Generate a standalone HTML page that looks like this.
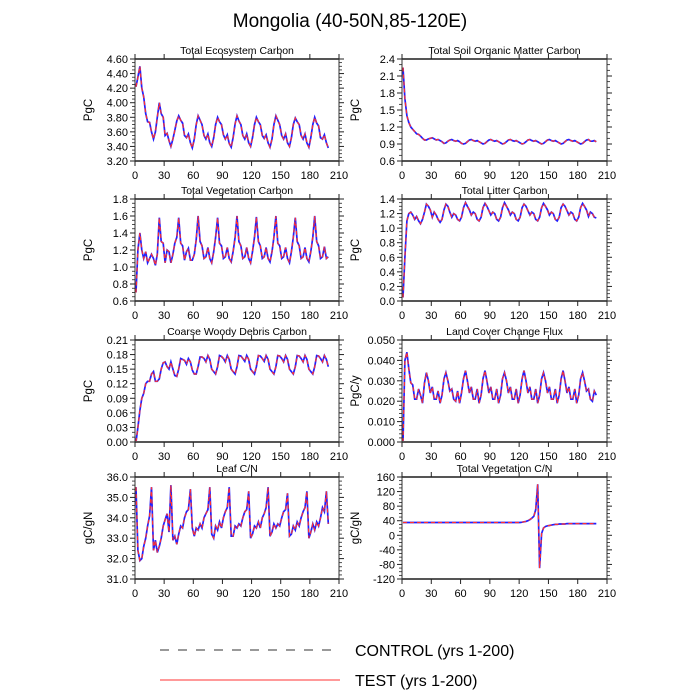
<!DOCTYPE html>
<html><head><meta charset="utf-8"><style>
html,body{margin:0;padding:0;background:#fff;}
svg{display:block;font-family:"Liberation Sans",sans-serif;}
</style></head><body>
<svg id="chart" width="700" height="700" viewBox="0 0 700 700">
<text x="350" y="27" text-anchor="middle" font-size="19">Mongolia (40-50N,85-120E)</text>
<g>
<line x1="160" y1="650" x2="340" y2="650" stroke="#333" stroke-width="1" stroke-dasharray="9,9"/>
<text x="355" y="656" font-size="16">CONTROL (yrs 1-200)</text>
<line x1="160" y1="680" x2="340" y2="680" stroke="#f33" stroke-width="1"/>
<text x="355" y="686" font-size="16">TEST (yrs 1-200)</text>
</g>
</svg>
<script>
const xTicks=[0,30,60,90,120,150,180,210];
const ecoVals=[4.22,4.35,4.50,4.20,4.08,3.85,3.74,3.73,3.60,3.50,3.60,3.80,4.00,3.85,3.80,3.55,3.58,3.48,3.40,3.50,3.62,3.75,3.82,3.76,3.72,3.55,3.52,3.57,3.45,3.38,3.50,3.70,
3.82,3.76,3.70,3.55,3.50,3.57,3.45,3.40,3.52,3.70,
3.80,3.74,3.70,3.56,3.50,3.56,3.44,3.39,3.52,3.71,
3.82,3.75,3.70,3.55,3.50,3.57,3.45,3.40,3.52,3.70,
3.80,3.74,3.70,3.55,3.51,3.56,3.45,3.39,3.50,3.70,
3.82,3.76,3.70,3.55,3.50,3.57,3.45,3.40,3.52,3.70,
3.79,3.74,3.70,3.55,3.50,3.57,3.45,3.39,3.52,3.70,
3.80,3.72,3.68,3.52,3.50,3.56,3.45,3.38];
const soilVals=[2.25,1.70,1.40,1.28,1.20,1.16,1.12,1.08,1.07,1.04,1.00,0.97,0.97,0.99,1.00,1.01,0.99,0.97,0.98,0.96,0.94,0.91,0.92,0.95,0.97,0.98,0.96,0.95,0.96,0.94,0.91,0.90,
0.91,0.94,0.97,0.98,0.96,0.95,0.96,0.94,0.92,0.90,
0.91,0.94,0.97,0.98,0.96,0.95,0.96,0.94,0.92,0.90,
0.91,0.94,0.97,0.98,0.96,0.95,0.96,0.94,0.92,0.90,
0.91,0.94,0.97,0.98,0.96,0.95,0.96,0.94,0.92,0.90,
0.91,0.94,0.97,0.98,0.96,0.95,0.96,0.94,0.92,0.90,
0.91,0.94,0.97,0.98,0.96,0.95,0.96,0.94,0.92,0.90,
0.91,0.94,0.97,0.98,0.95,0.95,0.96,0.94];
const vegVals=[0.70,1.20,1.40,1.20,1.10,1.18,1.05,1.10,1.15,1.10,1.02,1.15,1.58,1.30,1.28,1.05,1.20,1.18,1.05,1.15,1.28,1.35,1.58,1.28,1.25,1.08,1.18,1.22,1.08,1.08,1.15,1.32,
1.60,1.30,1.25,1.10,1.12,1.23,1.10,1.05,1.18,1.35,
1.58,1.28,1.25,1.10,1.12,1.23,1.10,1.06,1.18,1.35,
1.60,1.30,1.25,1.10,1.12,1.23,1.10,1.05,1.18,1.35,
1.59,1.30,1.25,1.10,1.12,1.23,1.10,1.06,1.18,1.35,
1.60,1.28,1.25,1.10,1.12,1.23,1.10,1.05,1.18,1.35,
1.58,1.30,1.25,1.10,1.12,1.23,1.10,1.06,1.18,1.35,
1.60,1.30,1.25,1.10,1.12,1.24,1.10,1.12];
const litVals=[0.05,0.60,1.10,1.20,1.22,1.18,1.12,1.16,1.10,1.06,1.12,1.22,1.33,1.30,1.25,1.15,1.22,1.18,1.12,1.08,1.12,1.25,1.33,1.30,1.22,1.15,1.20,1.18,1.12,1.10,1.15,1.28,
1.35,1.30,1.25,1.18,1.22,1.20,1.12,1.10,1.15,1.28,
1.34,1.30,1.24,1.18,1.22,1.20,1.12,1.10,1.15,1.28,
1.35,1.30,1.25,1.18,1.22,1.20,1.12,1.10,1.15,1.28,
1.33,1.30,1.24,1.18,1.22,1.20,1.12,1.10,1.15,1.28,
1.34,1.30,1.25,1.18,1.22,1.20,1.12,1.10,1.15,1.28,
1.33,1.30,1.24,1.18,1.22,1.20,1.12,1.10,1.15,1.28,
1.34,1.30,1.25,1.16,1.22,1.20,1.15,1.14];
const cwdVals=[0.000,0.030,0.065,0.090,0.100,0.120,0.125,0.125,0.140,0.145,0.125,0.125,0.130,0.150,0.163,0.165,0.155,0.150,0.165,0.150,0.137,0.135,0.150,0.172,0.170,0.168,0.160,0.172,0.165,0.148,0.140,0.140,
0.155,0.175,0.175,0.172,0.165,0.178,0.170,0.150,0.145,0.140,
0.155,0.178,0.176,0.172,0.165,0.178,0.170,0.150,0.145,0.140,
0.155,0.178,0.177,0.172,0.166,0.178,0.170,0.150,0.145,0.140,
0.155,0.178,0.177,0.172,0.166,0.178,0.170,0.150,0.145,0.140,
0.155,0.178,0.177,0.172,0.165,0.178,0.170,0.150,0.145,0.140,
0.155,0.178,0.177,0.172,0.165,0.178,0.170,0.150,0.145,0.140,
0.155,0.178,0.177,0.172,0.165,0.178,0.170,0.155];
const fluxVals=[0.000,0.040,0.044,0.036,0.029,0.028,0.021,0.021,0.026,0.023,0.019,0.029,0.034,0.030,0.024,0.027,0.021,0.021,0.025,0.019,0.023,0.031,0.034,0.030,0.025,0.026,0.021,0.020,0.025,0.019,0.024,0.031,
0.035,0.030,0.024,0.027,0.021,0.021,0.026,0.019,0.023,0.031,
0.035,0.030,0.024,0.027,0.021,0.021,0.026,0.019,0.023,0.031,
0.034,0.030,0.024,0.027,0.021,0.021,0.026,0.019,0.023,0.031,
0.035,0.030,0.024,0.027,0.021,0.021,0.026,0.019,0.023,0.031,
0.034,0.030,0.024,0.027,0.021,0.021,0.026,0.019,0.023,0.031,
0.035,0.030,0.024,0.027,0.021,0.021,0.026,0.019,0.023,0.031,
0.034,0.030,0.025,0.026,0.021,0.020,0.025,0.023];
const leafVals=[35.5,32.4,31.9,32.0,32.6,33.0,33.6,34.1,35.5,32.4,32.9,32.3,32.6,33.0,33.6,33.9,34.2,33.3,35.6,32.9,33.1,32.7,33.2,33.6,33.5,34.0,34.3,34.4,35.4,33.5,33.1,33.5,
33.4,33.7,33.5,34.0,34.2,34.4,35.5,33.2,33.0,33.6,
33.4,33.8,33.5,34.0,34.3,34.5,35.5,33.1,33.1,33.6,
33.5,33.7,33.6,34.0,34.3,34.4,35.3,33.0,33.2,33.6,
33.5,33.8,33.5,34.0,34.2,34.5,35.5,33.1,33.3,33.7,
33.5,33.7,33.6,34.0,34.3,34.4,35.2,33.1,33.2,33.6,
33.4,33.8,33.6,34.0,34.3,34.5,35.3,33.0,33.3,33.7,
33.4,33.8,33.6,34.0,34.5,34.3,35.3,33.7];
const vcnVals=[35,35,35,35,35,35,35,35,35,35,35,35,35,35,35,35,35,35,35,35,35,35,35,35,35,35,35,35,35,35,35,35,
35,35,35,35,35,35,35,35,35,35,
35,35,35,35,35,35,35,35,35,35,
35,35,35,35,35,35,35,35,35,36,
37,38,40,43,47,52,70,140,-90,5,
20,24,26,27,28,29,30,30,31,31,
31,31,32,32,32,32,32,32,32,32,
32,32,32,32,32,32,32,32];
const panels=[
 {name:'total-ecosystem-carbon',title:'Total Ecosystem Carbon',unit:'PgC',vals:ecoVals,min:3.2,max:4.6,step:0.2,dec:2,minor:4,col:0,row:0},
 {name:'total-soil-organic-matter-carbon',title:'Total Soil Organic Matter Carbon',unit:'PgC',vals:soilVals,min:0.6,max:2.4,step:0.3,dec:1,minor:3,col:1,row:0},
 {name:'total-vegetation-carbon',title:'Total Vegetation Carbon',unit:'PgC',vals:vegVals,min:0.6,max:1.8,step:0.2,dec:1,minor:4,col:0,row:1},
 {name:'total-litter-carbon',title:'Total Litter Carbon',unit:'PgC',vals:litVals,min:0,max:1.4,step:0.2,dec:1,minor:4,col:1,row:1},
 {name:'coarse-woody-debris-carbon',title:'Coarse Woody Debris Carbon',unit:'PgC',vals:cwdVals,min:0,max:0.21,step:0.03,dec:2,minor:3,col:0,row:2},
 {name:'land-cover-change-flux',title:'Land Cover Change Flux',unit:'PgC/y',vals:fluxVals,min:0,max:0.05,step:0.01,dec:3,minor:5,col:1,row:2},
 {name:'leaf-cn',title:'Leaf C/N',unit:'gC/gN',vals:leafVals,min:31,max:36,step:1,dec:1,minor:5,col:0,row:3},
 {name:'total-vegetation-cn',title:'Total Vegetation C/N',unit:'gC/gN',vals:vcnVals,min:-120,max:160,step:40,dec:0,minor:4,col:1,row:3}
];
const NS='http://www.w3.org/2000/svg';
const svg=document.getElementById('chart');
const colX=[[135,339],[402,607]];
const rowY=[59,199,340,477];
const H=102;
function mk(tag,attrs,parent){const e=document.createElementNS(NS,tag);for(const k in attrs)e.setAttribute(k,attrs[k]);parent.appendChild(e);return e;}
panels.forEach(p=>{
 const x0=colX[p.col][0],x1=colX[p.col][1],y0=rowY[p.row],y1=y0+H;
 const g=mk('g',{},svg);
 
 
 const xs=v=>x0+(v-0)/(210-0)*(x1-x0);
 const ys=v=>y1-(v-p.min)/(p.max-p.min)*H;
 const t=mk('text',{x:(x0+x1)/2,y:y0-5,'text-anchor':'middle','font-size':'10.5'},g);
 t.textContent=p.title;
 
 
 const yl=mk('text',{x:0,y:0,'text-anchor':'middle','font-size':'11.5',transform:`translate(${x0-43},${(y0+y1)/2}) rotate(-90)`},g);
 yl.textContent=p.unit;
 
 
 let d1='';
 p.vals.forEach((v,i)=>{const yr=i*2+1;d1+=(i?'L':'M')+xs(yr).toFixed(1)+' '+ys(v).toFixed(1);});
 const ctl=mk('path',{d:d1,fill:'none',stroke:'#2020ff','stroke-width':'1.7'},g);
 
 
 const tst=mk('path',{d:d1,fill:'none',stroke:'#ff3030','stroke-width':'1.2','stroke-dasharray':'4,3'},g);
 
 
 mk('line',{x1:x0,y1:y0,x2:x1,y2:y0,stroke:'#555','stroke-width':'2'},g);
 mk('line',{x1:x0,y1:y1,x2:x1,y2:y1,stroke:'#555','stroke-width':'2'},g);
 mk('line',{x1:x0,y1:y0,x2:x0,y2:y1,stroke:'#333','stroke-width':'1'},g);
 mk('line',{x1:x1,y1:y0,x2:x1,y2:y1,stroke:'#333','stroke-width':'1'},g);
 xTicks.forEach(v=>{
  const X=xs(v);
  mk('line',{x1:X,y1:y1,x2:X,y2:y1+5,stroke:'#222','stroke-width':'1'},g);
  mk('line',{x1:X,y1:y0,x2:X,y2:y0-5,stroke:'#222','stroke-width':'1'},g);
  const tl=mk('text',{x:X,y:y1+18,'text-anchor':'middle','font-size':'11'},g);
  tl.textContent=v;
  
  
 });
 const n=Math.round((p.max-p.min)/p.step);
 for(let i=0;i<=n;i++){
  const v=p.min+i*p.step,Y=ys(v);
  mk('line',{x1:x0,y1:Y,x2:x0-5,y2:Y,stroke:'#222','stroke-width':'1'},g);
  mk('line',{x1:x1,y1:Y,x2:x1+5,y2:Y,stroke:'#222','stroke-width':'1'},g);
  const tl=mk('text',{x:x0-7,y:Y+4,'text-anchor':'end','font-size':'11'},g);
  tl.textContent=v.toFixed(p.dec);
  
  
  if(i<n){for(let m=1;m<p.minor;m++){const Ym=ys(v+p.step*m/p.minor);
   mk('line',{x1:x0,y1:Ym,x2:x0-3,y2:Ym,stroke:'#222','stroke-width':'0.8'},g);
   mk('line',{x1:x1,y1:Ym,x2:x1+3,y2:Ym,stroke:'#222','stroke-width':'0.8'},g);}}
 }
});
</script>
</body></html>
